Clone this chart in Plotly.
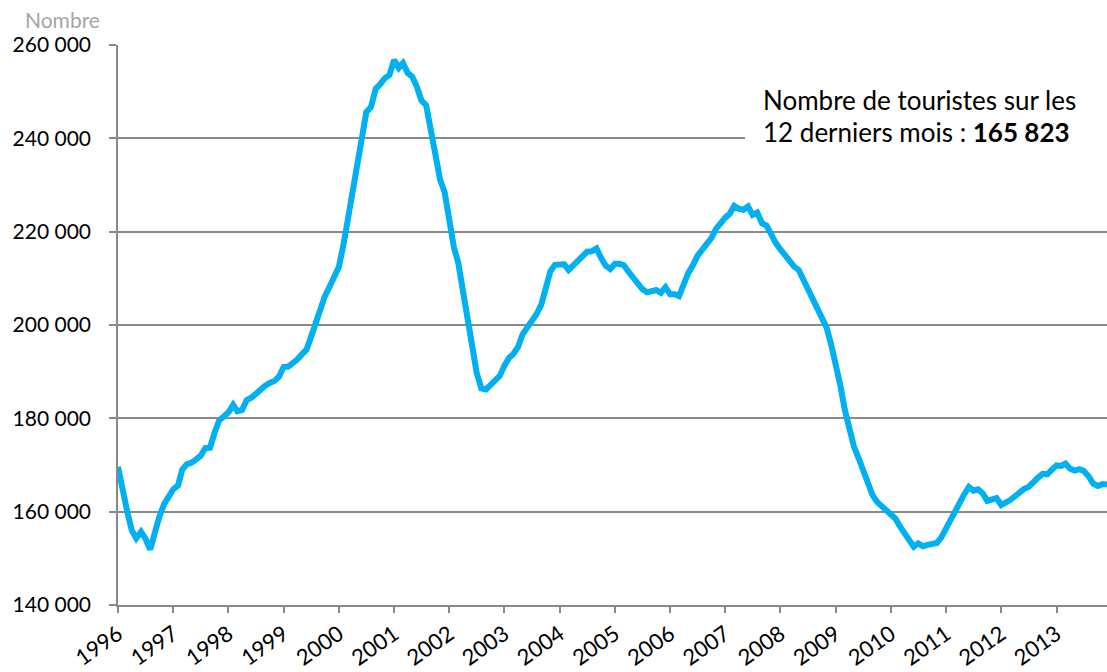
import pandas as pd
import plotly.graph_objects as go

# Monthly series: number of tourists over the previous 12 months
start_month = "1996-01-01"
n_months = 216
values = [
    169600, 164000, 160200, 156000, 154300, 155700, 154200, 151900, 156200, 159000, 161600, 163400,  # 1996
    164800, 165600, 169000, 170200, 170500, 171200, 172000, 173600, 173700, 176900, 179600, 180400,  # 1997
    181300, 182900, 181500, 181800, 183900, 184400, 185300, 186100, 187000, 187600, 188000, 188900,  # 1998
    191000, 191100, 191700, 192600, 193700, 194700, 197400, 200400, 203100, 206200, 208200, 210500,  # 1999
    212400, 217200, 222500, 228500, 233800, 240600, 245600, 246700, 250600, 251600, 252900, 253600,  # 2000
    256800, 255100, 256100, 254000, 253200, 251000, 248100, 247100, 241700, 235500, 231200, 228500,  # 2001
    221400, 216600, 213400, 208000, 202000, 195600, 189800, 186400, 186200, 187200, 187900, 189100,  # 2002
    191300, 193000, 193800, 195300, 198000, 199400, 201100, 202300, 204300, 207700, 211500, 212900,  # 2003
    213000, 213000, 211800, 212900, 213800, 214600, 215700, 215800, 216400, 214400, 212700, 212000,  # 2004
    213100, 213100, 212800, 211400, 210200, 208600, 207700, 207000, 207100, 207500, 206900, 208100,  # 2005
    206600, 206600, 206200, 209100, 211100, 212800, 214800, 216100, 217400, 218600, 220600, 221900,  # 2006
    223000, 223900, 225500, 224900, 224700, 225400, 223600, 224100, 221800, 221300, 219300, 217600,  # 2007
    216200, 214900, 213600, 212500, 211800, 209800, 207400, 205400, 204100, 201600, 199500, 195900,  # 2008
    191800, 187000, 182000, 177300, 174000, 171500, 169000, 166100, 163600, 162100, 161100, 160200,  # 2009
    159100, 158500, 156900, 155500, 154000, 152500, 153200, 152600, 152900, 153100, 153300, 154500,  # 2010
    156500, 158100, 159600, 162100, 163700, 165300, 164500, 164800, 163900, 162300, 162500, 162900,  # 2011
    161400, 161900, 162500, 163300, 164300, 164900, 165300, 166100, 167300, 168100, 168000, 169000,  # 2012
    169900, 169800, 170300, 169200, 168800, 169100, 168700, 167600, 166000, 165500, 165900, 165823,  # 2013
]
y_ticks = [140000, 160000, 180000, 200000, 220000, 240000, 260000]
y_tick_labels = ["140 000", "160 000", "180 000", "200 000", "220 000", "240 000", "260 000"]
annotation_line1 = "Nombre de touristes sur les"
annotation_line2 = "12 derniers mois : <b>165 823</b>"
y_title = "Nombre"

months = pd.date_range(start_month, periods=n_months, freq="MS")

FONT = "Lato"
GRID = "#8a8a8a"

fig = go.Figure()
fig.add_trace(go.Scatter(
    x=months, y=values, mode="lines",
    line=dict(color="#00B0F0", width=6),
    hoverinfo="skip", showlegend=False,
))

# white box behind the annotation text (hides the gridline)
fig.add_shape(type="rect", xref="paper", yref="paper",
              x0=(745 - 118) / 989, x1=1.0,
              y0=1 - (150 - 45) / 560, y1=1 - (80 - 45) / 560,
              fillcolor="white", line=dict(width=0), layer="above")

fig.add_annotation(xref="paper", yref="paper", x=(761 - 118) / 989, y=1 - (100 - 45) / 560,
                   xanchor="left", yanchor="middle", showarrow=False,
                   text=annotation_line1, font=dict(family=FONT, size=26, color="black"))
fig.add_annotation(xref="paper", yref="paper", x=(761 - 118) / 989, y=1 - (132 - 45) / 560,
                   xanchor="left", yanchor="middle", showarrow=False,
                   text=annotation_line2, font=dict(family=FONT, size=26, color="black"))
fig.add_annotation(xref="paper", yref="paper", x=(102 - 118) / 989, y=1 - (20 - 45) / 560,
                   xanchor="right", yanchor="middle", showarrow=False,
                   text=y_title, font=dict(family=FONT, size=21, color="#a6a6a6"))

fig.update_layout(
    width=1107, height=672,
    margin=dict(l=118, r=0, t=45, b=67),
    plot_bgcolor="white", paper_bgcolor="white",
    font=dict(family=FONT, size=20, color="black"),
    xaxis=dict(
        range=[months[0], months[-1]],
        tickmode="linear", tick0=start_month, dtick="M12", tickformat="%Y",
        tickangle=-35, ticks="outside", ticklen=6, tickwidth=1.5, tickcolor=GRID,
        showline=True, linecolor=GRID, linewidth=1.5,
        showgrid=False, zeroline=False,
        tickfont=dict(family=FONT, size=22, color="black"),
    ),
    yaxis=dict(
        range=[140000, 260000],
        tickmode="array", tickvals=y_ticks, ticktext=y_tick_labels,
        ticks="outside", ticklen=7, tickwidth=1.5, tickcolor=GRID,
        ticklabelstandoff=14,
        showline=True, linecolor=GRID, linewidth=1.5,
        showgrid=True, gridcolor=GRID, gridwidth=1.5, zeroline=False,
        tickfont=dict(family=FONT, size=21, color="black"),
    ),
)

fig.write_html("out.html", config={"displayModeBar": False},
               post_script="document.body.style.margin='0';")
